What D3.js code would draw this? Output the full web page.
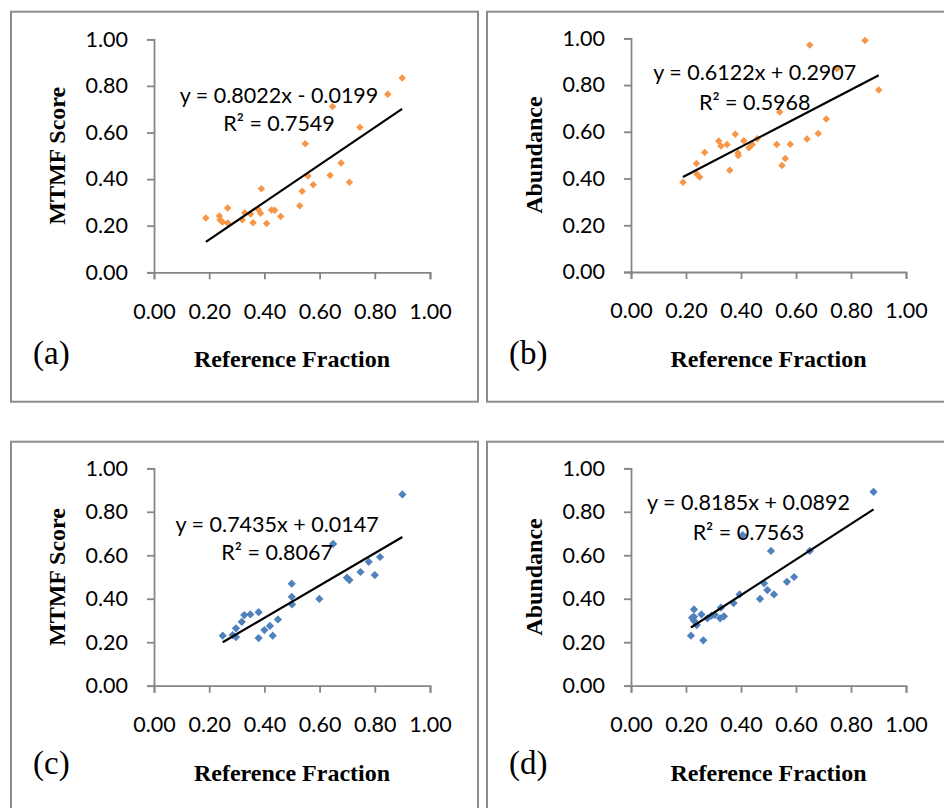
<!DOCTYPE html>
<html><head><meta charset="utf-8">
<script src="https://cdn.jsdelivr.net/npm/d3@7/dist/d3.min.js"></script>
<style>
html,body{margin:0;padding:0;background:#fff;}
svg{display:block;}
</style></head>
<body><svg id="chart" width="944" height="808"></svg>
<script>
// ---------- data ----------
const panelKeys = ["a", "b", "c", "d"];
const yTitles = ["MTMF Score", "Abundance", "MTMF Score", "Abundance"];
const xTitle = "Reference Fraction";
const tickValues = [0, 0.2, 0.4, 0.6, 0.8, 1.0];
const seriesColors = ["#F79646", "#F79646", "#4F81BD", "#4F81BD"];

const xA = [0.188,0.237,0.239,0.248,0.267,0.267,0.320,0.329,0.350,0.359,0.378,0.386,0.389,0.408,0.426,0.437,0.459,0.528,0.537,0.548,0.558,0.577,0.638,0.647,0.678,0.708,0.746,0.847,0.899];
const yA = [0.233,0.242,0.226,0.216,0.212,0.276,0.226,0.256,0.250,0.213,0.269,0.253,0.359,0.209,0.267,0.266,0.239,0.286,0.348,0.552,0.413,0.376,0.416,0.712,0.469,0.386,0.622,0.764,0.834];

const xB = [0.189,0.238,0.239,0.250,0.268,0.319,0.327,0.349,0.359,0.379,0.389,0.390,0.410,0.429,0.441,0.459,0.530,0.541,0.549,0.561,0.579,0.640,0.650,0.681,0.710,0.749,0.851,0.901];
const yB = [0.384,0.464,0.419,0.406,0.511,0.561,0.539,0.546,0.435,0.589,0.509,0.498,0.562,0.532,0.546,0.570,0.546,0.685,0.456,0.486,0.547,0.569,0.971,0.593,0.655,0.870,0.991,0.779];

const xC = [0.249,0.285,0.297,0.297,0.318,0.327,0.349,0.379,0.379,0.400,0.420,0.430,0.449,0.499,0.499,0.500,0.599,0.649,0.699,0.708,0.748,0.778,0.800,0.819,0.900];
const yC = [0.230,0.233,0.264,0.224,0.294,0.325,0.328,0.338,0.219,0.256,0.275,0.230,0.305,0.469,0.409,0.374,0.399,0.652,0.497,0.486,0.523,0.570,0.509,0.592,0.880];

const xD = [0.218,0.222,0.229,0.229,0.229,0.239,0.256,0.263,0.278,0.293,0.305,0.324,0.327,0.338,0.373,0.395,0.406,0.469,0.484,0.496,0.509,0.520,0.567,0.593,0.650,0.882];
const yD = [0.230,0.313,0.351,0.317,0.299,0.279,0.328,0.209,0.310,0.322,0.326,0.310,0.359,0.319,0.380,0.420,0.693,0.399,0.471,0.440,0.620,0.420,0.478,0.500,0.620,0.892];

const slopes = [0.8022, 0.6122, 0.7435, 0.8185];
const intercepts = [-0.0199, 0.2907, 0.0147, 0.0892];
const rSquared = ["0.7549", "0.5968", "0.8067", "0.7563"];
// equation label anchor, in data units (centre x, baseline y of each line)
const eqX = [0.453, 0.450, 0.446, 0.427];
const eqY = [0.725, 0.822, 0.708, 0.808];
const r2Y = [0.605, 0.693, 0.578, 0.670];

const xs = [xA, xB, xC, xD];
const ys = [yA, yB, yC, yD];

// ---------- layout ----------
const layout = [
  {fx: 11,  fy: 11.7,  px0: 154, px1: 430, py0: 272.3, py1: 39.3,  letterY: 364},
  {fx: 487, fy: 11.7,  px0: 631, px1: 906, py0: 272.0, py1: 38.3,  letterY: 364},
  {fx: 11,  fy: 441.7, px0: 154, px1: 430, py0: 685.7, py1: 468.3, letterY: 774},
  {fx: 487, fy: 441.7, px0: 631, px1: 906, py0: 685.7, py1: 468.3, letterY: 774}
];
const frameW = 467, frameH = 390;
const tickFont = "Lato, 'Open Sans', sans-serif";
const fontPx = "21.5px";
const serif = "'Liberation Serif', 'Times New Roman', serif";
const axisColor = "#868686";

const svg = d3.select("#chart");

const diamond = {
  draw(ctx, size) {
    const r = Math.sqrt(size / 2);
    ctx.moveTo(0, -r); ctx.lineTo(r, 0); ctx.lineTo(0, r); ctx.lineTo(-r, 0); ctx.closePath();
  }
};
const fmt = d3.format(".2f");

panelKeys.forEach((key, i) => {
  const L = layout[i];
  const g = svg.append("g");

  g.append("rect")
    .attr("x", L.fx).attr("y", L.fy)
    .attr("width", frameW).attr("height", frameH)
    .attr("fill", "none").attr("stroke", "#8c8c8c").attr("stroke-width", 2);

  const x = d3.scaleLinear().domain([0, 1]).range([L.px0, L.px1]);
  const y = d3.scaleLinear().domain([0, 1]).range([L.py0, L.py1]);

  // y axis
  const yAxis = d3.axisLeft(y).tickValues(tickValues).tickFormat(fmt).tickSize(7).tickPadding(19);
  const ya = g.append("g").attr("transform", `translate(${L.px0},0)`).call(yAxis);
  ya.select(".domain").attr("stroke", axisColor).attr("stroke-width", 1.8);
  ya.selectAll(".tick line").attr("stroke", axisColor).attr("stroke-width", 1.8);
  ya.selectAll(".tick text").attr("fill", "#000").style("font-family", tickFont).style("font-size", fontPx);

  // x axis
  const xAxis = d3.axisBottom(x).tickValues(tickValues).tickFormat(fmt).tickSize(7).tickPadding(24);
  const xa = g.append("g").attr("transform", `translate(0,${L.py0})`).call(xAxis);
  xa.select(".domain").attr("stroke", axisColor).attr("stroke-width", 1.8);
  xa.selectAll(".tick line").attr("stroke", axisColor).attr("stroke-width", 1.8);
  xa.selectAll(".tick text").attr("fill", "#000").style("font-family", tickFont).style("font-size", fontPx);

  // points
  const pts = xs[i].map((v, j) => [v, ys[i][j]]);
  g.append("g").selectAll("path").data(pts).join("path")
    .attr("transform", d => `translate(${x(d[0])},${y(d[1])})`)
    .attr("d", d3.symbol().type(diamond).size(i < 2 ? 28 : 34))
    .attr("fill", seriesColors[i]);

  // trendline
  const xmin = d3.min(xs[i]), xmax = d3.max(xs[i]);
  const line = d3.line().x(d => x(d)).y(d => y(slopes[i] * d + intercepts[i]));
  g.append("path").datum([xmin, xmax]).attr("d", line)
    .attr("stroke", "#000").attr("stroke-width", 2.2).attr("fill", "none");

  // equation text
  const sign = intercepts[i] < 0 ? "-" : "+";
  g.append("text")
    .attr("x", x(eqX[i])).attr("y", y(eqY[i]))
    .attr("text-anchor", "middle")
    .style("font-family", tickFont).style("font-size", fontPx)
    .text(`y = ${slopes[i].toFixed(4)}x ${sign} ${Math.abs(intercepts[i]).toFixed(4)}`);
  g.append("text")
    .attr("x", x(eqX[i])).attr("y", y(r2Y[i]))
    .attr("text-anchor", "middle")
    .style("font-family", tickFont).style("font-size", fontPx)
    .text(`R² = ${rSquared[i]}`);

  // axis titles
  g.append("text")
    .attr("x", (L.px0 + L.px1) / 2).attr("y", L.py0 + 95)
    .attr("text-anchor", "middle")
    .style("font-family", serif).style("font-weight", "bold").style("font-size", "24px")
    .text(xTitle);
  g.append("text")
    .attr("transform", `translate(${L.px0 - 89},${(L.py0 + L.py1) / 2}) rotate(-90)`)
    .attr("text-anchor", "middle")
    .style("font-family", serif).style("font-weight", "bold").style("font-size", "24px")
    .text(yTitles[i]);

  // panel letter
  g.append("text")
    .attr("x", L.fx + 22).attr("y", L.letterY)
    .style("font-family", serif).style("font-size", "33px")
    .text(`(${key})`);
});
</script>
</body></html>
